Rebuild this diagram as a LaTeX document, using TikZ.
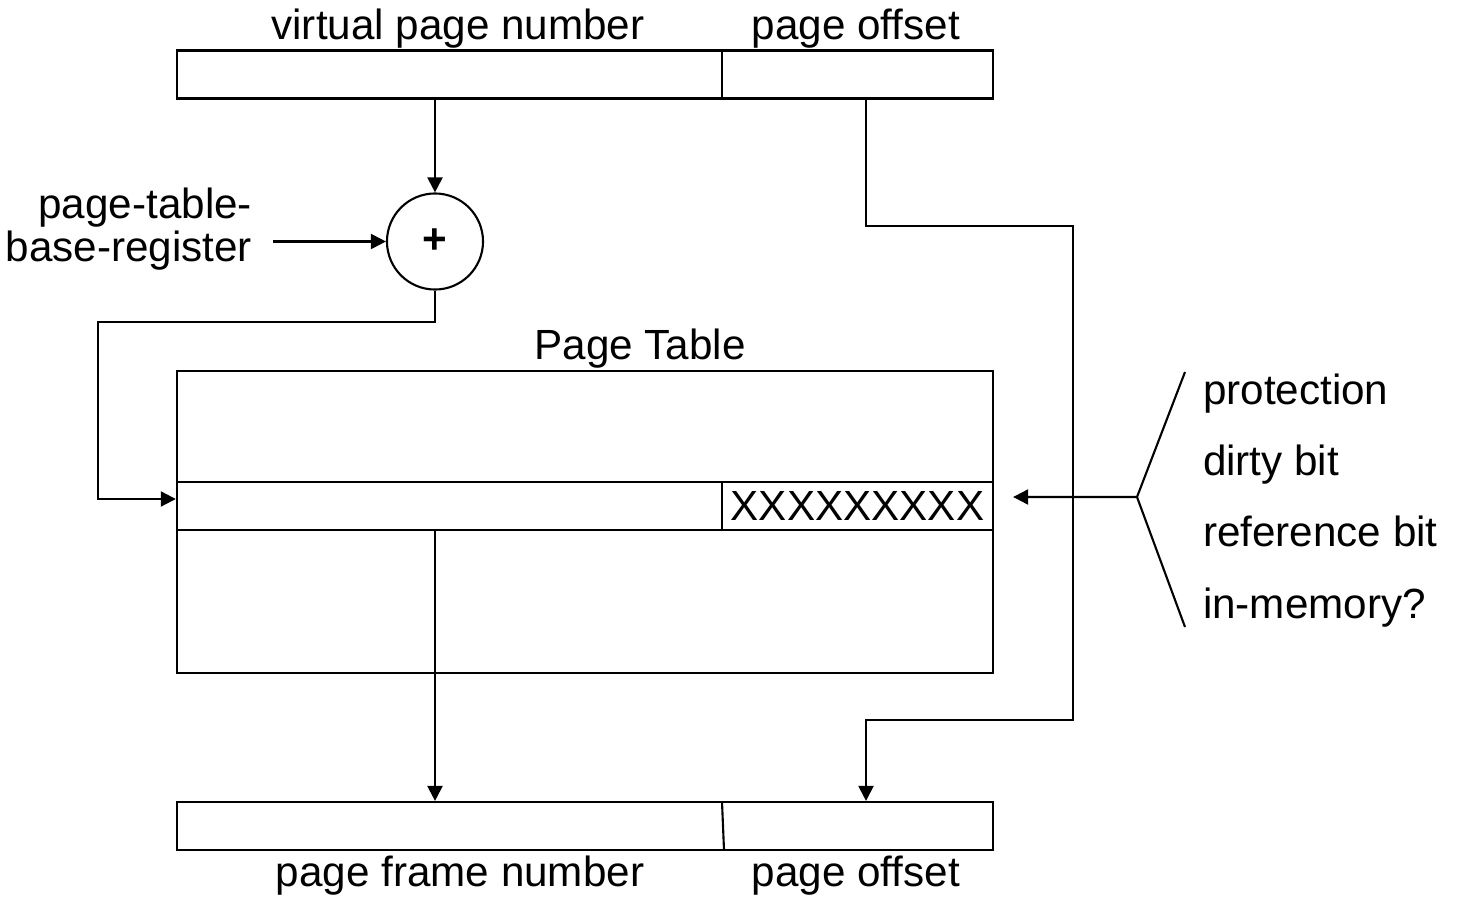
\documentclass[tikz,border=0pt]{standalone}
\usepackage{fontspec}
\setmainfont{Liberation Sans}
\usepackage{tikz}
\usetikzlibrary{arrows.meta}

\begin{document}
\begin{tikzpicture}[x=0.01cm, y=-0.01cm, line width=0.6pt,
  every node/.style={font=\fontsize{12pt}{12.2pt}\selectfont, inner sep=0pt},
  field/.style={draw, minimum height=0.48cm},
  lbl/.style={anchor=base},
  arr/.style={-{Triangle[length=1.5mm, width=1.5mm]}}]
\useasboundingbox (0,0) rectangle (1457,903);
%%% virtual address %%%

      \node[field, minimum width=5.45cm] (vpn) at (449.5,74.5) {};
      \node[field, minimum width=2.71cm] (off) at (857.5,74.5) {};
      \node[lbl] (vpnlbl) at (458,39) {virtual page number};
      \node[lbl] (offlbl) at (856,39) {page offset};
      %%
      \node[draw, circle, minimum size=0.96cm] (adder) at (435,241.5) {\textbf{+}};
      \node[anchor=east, align=right] (ptbr) at (253,229) {page-table-\\base-register};
      \coordinate (ptbrend) at (273,241.5);

%%% page table %%%
      \node[draw, minimum width=8.16cm, minimum height=3.02cm] (table) at (585,522) {};
      \node[lbl] (tablelbl) at (640,359) {Page Table};
      \node[field, minimum width=5.45cm] (pte) at (449.5,506) {};
      \node[field, minimum width=2.71cm] (bits) at (857.5,506) {XXXXXXXXX};

%%% physical address %%%
      \node[field, minimum width=8.16cm] (phys) at (585,826) {};
      \draw (722,802) -- (724,850);
      \node[lbl] (pfnlbl) at (460,886) {page frame number};
      \node[lbl] (poffbl) at (856,886) {page offset};

%%% bits %%%
      \coordinate (brk) at (1137,497);
      \coordinate (brktop) at (1185,372);
      \coordinate (brkbot) at (1185,627);
      \node[anchor=base west] (prot) at (1202,404) {protection};
      \node[anchor=base west] (dirty) at (1202,475) {dirty bit};
      \node[anchor=base west] (ref) at (1202,546) {reference bit};
      \node[anchor=base west] (inmem) at (1202,618) {in-memory?};

%%% connectors %%%
      \coordinate (offx) at (866,0);
      \coordinate (r1) at (1073,226);
      \coordinate (r2) at (1073,720);
      \coordinate (loopl) at (98,322);
      \draw[arr] (adder.north |- vpn.south) -- (adder.north);
      \draw[arr] (ptbrend) -- (adder.west);
      \draw[arr] (adder.south) |- (loopl) |- ([yshift=0.07cm]pte.west);
      \draw[arr] (adder |- pte.south) -- (adder |- phys.north);
      \draw[arr] (offx |- off.south) |- (r1) -- (r2) -| (offx |- phys.north);
      \draw (brktop) -- (brk) -- (brkbot);
      \draw[arr] (brk) -- ([xshift=0.19cm, yshift=0.09cm]bits.east);

\end{tikzpicture}
\end{document}
